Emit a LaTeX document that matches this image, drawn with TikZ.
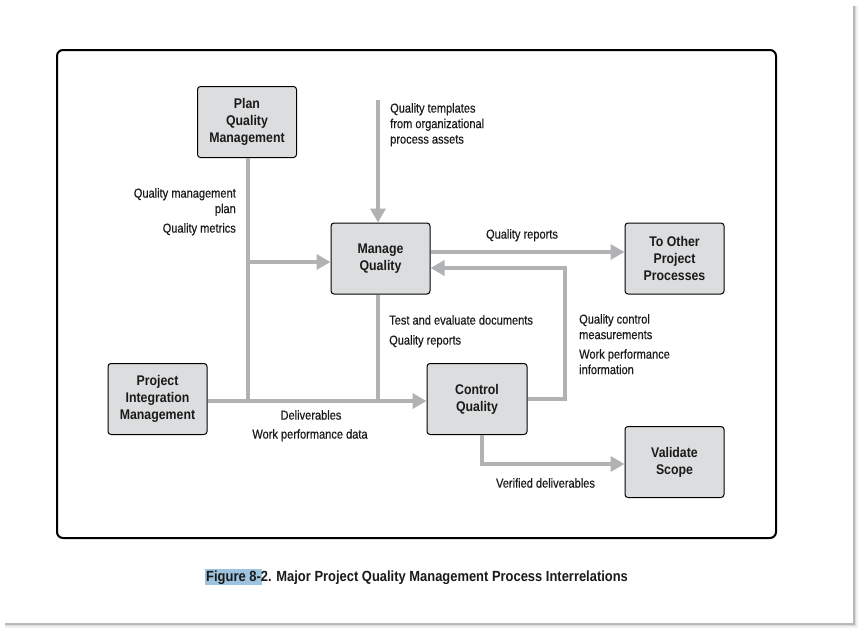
\documentclass[tikz,border=0pt]{standalone}
\usepackage{fontspec}
\setmainfont{Liberation Sans}[FakeStretch=0.88]
\newfontfamily\lblfont{Liberation Sans}[FakeStretch=0.85, FakeBold=0.35]
\usetikzlibrary{arrows.meta}
\definecolor{boxgray}{HTML}{DCDDDE}
\definecolor{linegray}{HTML}{B1B2B4}
\definecolor{txt}{HTML}{1A1A1A}
\definecolor{hilite}{HTML}{9DC3DE}
\begin{document}
\begin{tikzpicture}[x=1pt,y=-1pt,
  box/.style={draw=black, line width=1pt, fill=boxgray, rounded corners=3pt,
    minimum width=99pt, minimum height=71pt, align=center, inner sep=0pt,
    font=\bfseries\fontsize{14}{17}\selectfont, text=txt},
  lbl/.style={font=\lblfont\fontsize{13}{15.5}\selectfont, text=txt, inner sep=0pt},
  conn/.style={draw=linegray, line width=4pt},
  arr/.style={conn, -{Triangle[length=14pt,width=15pt]}}]
\useasboundingbox (0,0) rectangle (862,632);
% sheet with shadow
\fill[white] (0,0) rectangle (862,632);
\fill[black!6] (5,6) rectangle (858,628);
\fill[black!14] (5,6) rectangle (856,626);
\fill[black!28] (5,6) rectangle (854.5,624.5);
\fill[white] (3,4) rectangle (853,623);
% frame
\draw[black, line width=2pt, rounded corners=6pt] (57,50) rectangle (776,538);
% boxes
\node[box] (pqm) at (247,122) {Plan\\Quality\\Management};
\node[box] (mq) at (380.5,258.5) {Manage\\Quality};
\node[box] (top) at (674.5,258.5) {To Other\\Project\\Processes};
\node[box] (pim) at (157.5,399) {Project\\Integration\\Management};
\node[box, minimum width=100pt] (cq) at (477,399) {Control\\Quality};
\node[box] (vs) at (674.5,462) {Validate\\Scope};
% junction coordinates
\coordinate (j1) at (248,401);
\coordinate (j2) at (248,262);
\coordinate (j3) at (378,401);
\coordinate (src) at (378,100);
\coordinate (qr) at (0,252);
\coordinate (fb) at (565,268);
\coordinate (vd) at (482,464);
% connectors
\draw[conn] (pqm.south -| j1) -- (j1);
\draw[arr] (j2) -- (j2 -| mq.west);
\draw[arr] (pim.east |- j1) -- (j1 -| cq.west);
\draw[conn] (mq.south -| j3) -- (j3);
\draw[arr] (src) -- (src |- mq.north);
\draw[arr] (mq.east |- qr) -- (top.west |- qr);
\draw[arr] (cq.east) -| (fb) -- (fb -| mq.east);
\draw[arr] (cq.south -| vd) -- (vd) -- (vd -| vs.west);
% labels
\node[lbl, anchor=north west, align=left] (l1) at (390,103) {Quality templates\\from organizational\\process assets};
\node[lbl, anchor=north east, align=right] (l2) at (236,188) {Quality management\\plan};
\node[lbl, anchor=north east] (l3) at (236,223) {Quality metrics};
\node[lbl, anchor=north] (l4) at (522,229) {Quality reports};
\node[lbl, anchor=north west] (l5) at (389,315) {Test and evaluate documents};
\node[lbl, anchor=north west] (l6) at (389,335) {Quality reports};
\node[lbl, anchor=north west, align=left] (l7) at (579,314) {Quality control\\measurements};
\node[lbl, anchor=north west, align=left] (l8) at (579,349) {Work performance\\information};
\node[lbl, anchor=north] (l9) at (311,410) {Deliverables};
\node[lbl, anchor=north] (l10) at (310,429) {Work performance data};
\node[lbl, anchor=north] (l11) at (545.5,478) {Verified deliverables};
% caption
\fill[hilite] (205,569) rectangle (262,585);
\node[font=\bfseries\fontsize{14.7}{18}\selectfont, text=txt, inner sep=0pt, anchor=north west] (cap) at (206,571) {Figure 8-2. Major Project Quality Management Process Interrelations};
\end{tikzpicture}
\end{document}
